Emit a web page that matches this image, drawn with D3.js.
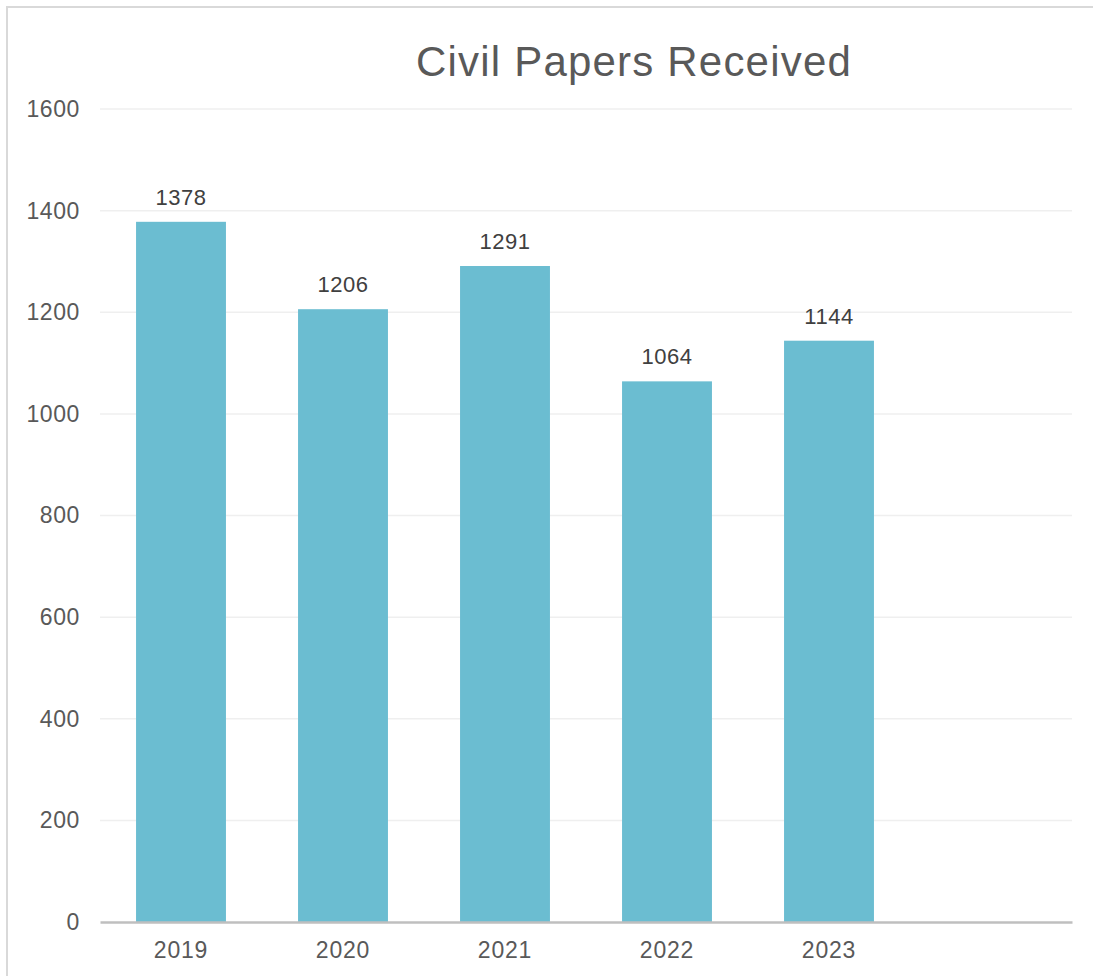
<!DOCTYPE html>
<html>
<head>
<meta charset="utf-8">
<script src="https://cdn.jsdelivr.net/npm/d3@7"></script>
<style>
  body { margin: 0; background: #fff; }
  svg { display: block; font-family: "Liberation Sans", Arial, sans-serif; }
</style>
</head>
<body>
<div id="chart"></div>
<script>
// Chart data
const categories = ['2019', '2020', '2021', '2022', '2023', ''];
const values = [1378, 1206, 1291, 1064, 1144, null];
const yTicks = [0, 200, 400, 600, 800, 1000, 1200, 1400, 1600];
const title = 'Civil Papers Received';

const width = 1093;
const height = 976;
const margin = { top: 109, right: 21, bottom: 54, left: 100 };

function drawChart() {
  const svg = d3.select('#chart').append('svg').attr('width', width).attr('height', height);

  // outer border of the chart area
  svg.append('rect')
    .attr('x', 7).attr('y', 7)
    .attr('width', width + 10).attr('height', height + 10)
    .attr('fill', 'none').attr('stroke', '#d9d9d9').attr('stroke-width', 2);

  const x = d3.scaleBand()
    .domain(categories)
    .range([margin.left, width - margin.right])
    .paddingInner(0.445)
    .paddingOuter(0.2225);

  const y = d3.scaleLinear()
    .domain([0, 1600])
    .range([height - margin.bottom, margin.top]);

  // gridlines
  svg.append('g')
    .selectAll('line')
    .data(yTicks.slice(1))
    .join('line')
    .attr('x1', margin.left).attr('x2', width - margin.right)
    .attr('y1', (d) => y(d)).attr('y2', (d) => y(d))
    .attr('stroke', '#efefef').attr('stroke-width', 1.5);

  // y axis labels
  const yAxis = d3.axisLeft(y).tickValues(yTicks).tickFormat(d3.format('d')).tickSize(0).tickPadding(20);
  const gy = svg.append('g').attr('transform', `translate(${margin.left},0)`).call(yAxis);
  gy.select('.domain').remove();
  gy.selectAll('text')
    .attr('font-size', 23).attr('fill', '#595959').attr('font-family', 'inherit')
    .attr('letter-spacing', 0.6);

  // bars
  const data = categories.map((c, i) => ({ c, v: values[i] })).filter((d) => d.v != null);
  svg.append('g')
    .selectAll('rect')
    .data(data)
    .join('rect')
    .attr('x', (d) => x(d.c))
    .attr('width', x.bandwidth())
    .attr('y', (d) => y(d.v))
    .attr('height', (d) => y(0) - y(d.v))
    .attr('fill', '#6bbdd1');

  // value labels
  svg.append('g')
    .selectAll('text')
    .data(data)
    .join('text')
    .attr('x', (d) => x(d.c) + x.bandwidth() / 2)
    .attr('y', (d) => y(d.v) - 17)
    .attr('text-anchor', 'middle')
    .attr('font-size', 22)
    .attr('letter-spacing', 0.5)
    .attr('fill', '#404040')
    .text((d) => d.v);

  // x axis
  const xAxis = d3.axisBottom(x).tickSize(0).tickPadding(20);
  const gx = svg.append('g').attr('transform', `translate(0,${y(0)})`).call(xAxis);
  gx.select('.domain').attr('stroke', '#bfbfbf').attr('stroke-width', 2.5);
  gx.selectAll('text')
    .attr('font-size', 23).attr('fill', '#595959').attr('font-family', 'inherit')
    .attr('letter-spacing', 0.8);

  // title
  svg.append('text')
    .attr('x', 634).attr('y', 76)
    .attr('text-anchor', 'middle')
    .attr('font-size', 42)
    .attr('fill', '#595959')
    .attr('letter-spacing', 1.2)
    .text(title);
}

document.addEventListener('DOMContentLoaded', drawChart);
</script>
</body>
</html>
